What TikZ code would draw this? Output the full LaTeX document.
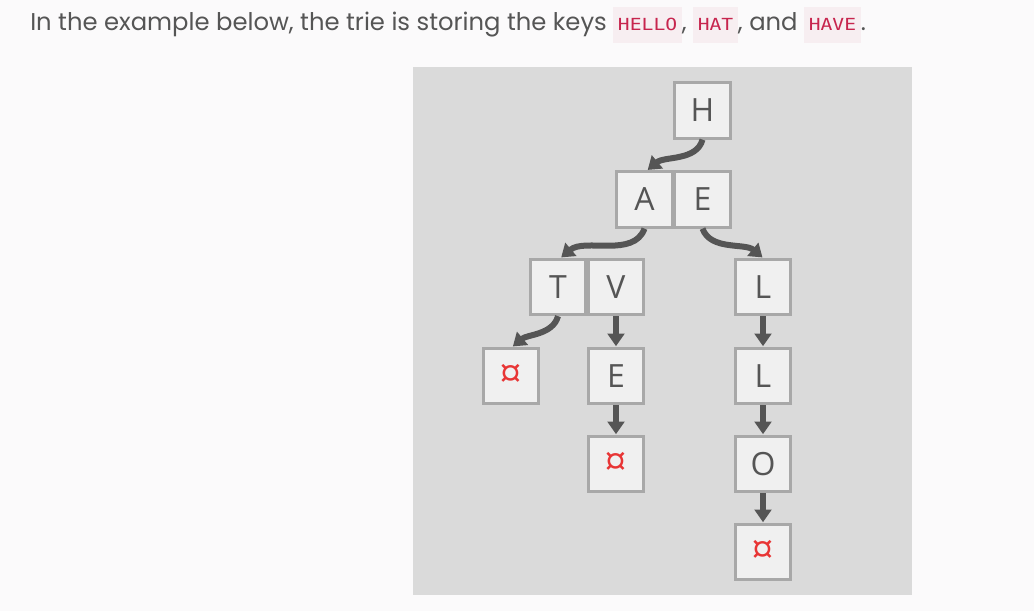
\documentclass[tikz,border=0pt]{standalone}
\usepackage{fontspec}
\setmainfont{Poppins}
\newfontfamily\boxfont{Open Sans}
\newfontfamily\codefont[FakeStretch=1.18]{DejaVu Sans Mono}
\usetikzlibrary{arrows.meta,positioning}

\definecolor{pagebg}{HTML}{FBFAFB}
\definecolor{panelbg}{HTML}{DADADA}
\definecolor{cellbg}{HTML}{F0F0F0}
\definecolor{cellline}{HTML}{A8A8A8}
\definecolor{arrowgray}{HTML}{555555}
\definecolor{textgray}{HTML}{555555}
\definecolor{codebg}{HTML}{F7EEF1}
\definecolor{codered}{HTML}{C7254E}
\definecolor{endred}{HTML}{E83535}

\newcommand{\keybox}[1]{{\setlength{\fboxsep}{3.5pt}\colorbox{codebg}{\strut\codefont\fontsize{12.5}{14}\selectfont\color{codered}#1}}}

\begin{document}
\begin{tikzpicture}[
			x=0.75pt, y=-0.75pt,
			cell/.style={rectangle, draw=cellline, fill=cellbg, line width=2.2pt,
				minimum size=41.5pt, inner sep=0pt, text=textgray,
				font=\boxfont\fontsize{24}{24}\selectfont},
			endcell/.style={cell, text=endred, font=\boxfont\fontsize{30}{30}\selectfont},
			link/.style={draw=arrowgray, line width=4.5pt,
				-{Triangle[width=12.5pt,length=9.5pt]}, shorten >=0.5pt},
			curvelink/.style={link, looseness=0.9},
			]
			
			% page and panel
			\useasboundingbox[fill=pagebg] (0,0) rectangle (1034,611);
			\fill[panelbg] (413,67) rectangle (912,595);
			
			\node[anchor=base west, text=textgray, font=\fontsize{18.2}{20}\selectfont, inner sep=0pt]
				(caption) at (30,30) {In the example below, the trie is storing the keys \keybox{HELLO}, \keybox{HAT}, and \keybox{HAVE}.};
			
			% first level
			\node[cell] (H) at (702.5,110.5) {H};
			
			% second level
			\node[cell] (A) at (644.5,199.5) {A};
			\node[cell] (E) at (702.5,199.5) {E};
			
			% third level
			\node[cell] (T) at (558,287) {T};
			\node[cell] (V) at (616,287) {V};
			\node[cell] (L1) at (763,287) {L};
			
			% fourth level and below
			\node[endcell] (endT) at (511,376) {\raisebox{-0.4ex}{¤}};
			\node[cell] (E2) at (616,376) {E};
			\node[endcell] (endE) at (616,464) {\raisebox{-0.4ex}{¤}};
			\node[cell] (L2) at (763,376) {L};
			\node[cell] (O) at (763,464) {O};
			\node[endcell] (endO) at (763,552) {\raisebox{-0.4ex}{¤}};
			
			% links
			\draw[curvelink] (H.south) to[out=-105, in=40] ([xshift=2pt]A.north);
			\draw[curvelink] (A.south) to[out=-110, in=40] ([xshift=2pt]T.north);
			\draw[curvelink] (E.south) to[out=-70, in=140] (L1.north);
			\draw[curvelink] (T.south) to[out=-105, in=40] ([xshift=1pt]endT.north);
			\draw[link] (V) -- (E2);
			\draw[link] (E2) -- (endE);
			\draw[link] (L1) -- (L2);
			\draw[link] (L2) -- (O);
			\draw[link] (O) -- (endO);
			
		\end{tikzpicture}
\end{document}
